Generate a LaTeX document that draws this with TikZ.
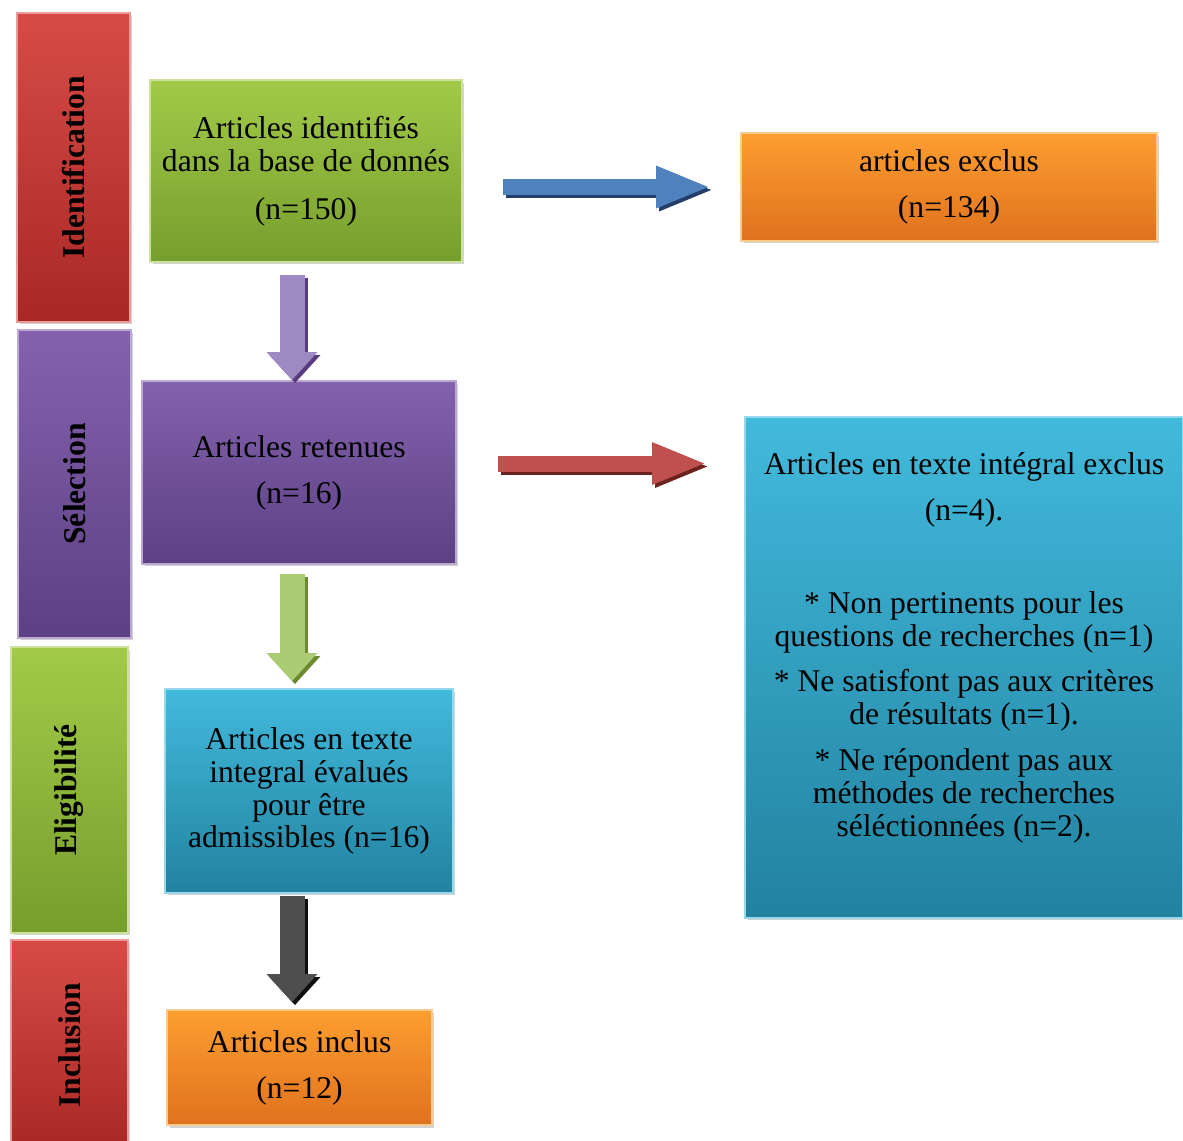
\documentclass[tikz,border=0pt]{standalone}
\usepackage{fontspec}
\setmainfont{Liberation Serif}
\usepackage{graphicx}
\usepackage{tikz}
\usetikzlibrary{arrows.meta, positioning, calc, shadows}
\definecolor{redtop}{RGB}{215,75,70}
\definecolor{redbot}{RGB}{168,40,38}
\definecolor{purtop}{RGB}{132,98,172}
\definecolor{purbot}{RGB}{92,64,132}
\definecolor{gretop}{RGB}{162,202,72}
\definecolor{grebot}{RGB}{118,158,45}
\definecolor{blutop}{RGB}{66,186,220}
\definecolor{blubot}{RGB}{34,130,160}
\definecolor{orgtop}{RGB}{252,158,48}
\definecolor{orgbot}{RGB}{224,114,30}
\definecolor{arrblue}{RGB}{79,129,189}
\definecolor{arrblueshd}{RGB}{36,62,106}
\definecolor{arrred}{RGB}{192,80,77}
\definecolor{arrredshd}{RGB}{108,34,30}
\definecolor{arrpur}{RGB}{158,138,194}
\definecolor{arrpurshd}{RGB}{88,60,128}
\definecolor{arrgre}{RGB}{172,204,116}
\definecolor{arrgreshd}{RGB}{108,138,50}
\definecolor{arrblk}{RGB}{78,78,78}
\definecolor{arrblkshd}{RGB}{15,15,15}
\newcommand\boxfont{\fontsize{18}{18.7}\selectfont}
\newcommand\barfont{\fontsize{18}{18.7}\selectfont\bfseries}
\tikzset{
  stagebox/.style 2 args={rectangle, top color=#1, bottom color=#2,
                          draw=#1!55!white, line width=1pt, inner sep=2pt,
                          align=center, font=\boxfont,
                          drop shadow={shadow xshift=0.05cm, shadow yshift=-0.05cm,
                                       opacity=0.35}},
  stagebar/.style 2 args={stagebox={#1}{#2}, font=\barfont},
  harrow/.style={draw=#1, line width=0.32cm,
                 -{Triangle[length=1.1cm, width=0.76cm]}},
  varrow/.style={draw=#1, line width=0.5cm,
                 -{Triangle[length=0.56cm, width=0.98cm]}},
  arrshd/.style={transform canvas={shift={(0.06cm,-0.06cm)}}},
}
\begin{document}
\begin{tikzpicture}[x=0.02cm, y=-0.02cm]
  \useasboundingbox (0,0) rectangle (1183,1140);

  % Stage bars
  \node[stagebar={redtop}{redbot}, minimum width=2.26cm, minimum height=6.18cm]
    (barid) at (73.5,167.5) {\rotatebox{90}{Identification}};
  \node[stagebar={purtop}{purbot}, minimum width=2.26cm, minimum height=6.16cm]
    (barsel) at (74.5,484) {\rotatebox{90}{Sélection}};
  \node[stagebar={gretop}{grebot}, minimum width=2.34cm, minimum height=5.72cm]
    (barelig) at (69.5,790) {\rotatebox{90}{Eligibilité}};
  \node[stagebar={redtop}{redbot}, minimum width=2.34cm, minimum height=4.2cm]
    (barincl) at (69.5,1045) {\rotatebox{90}{Inclusion}};

  % Main column
  \node[stagebox={gretop}{grebot}, minimum width=6.24cm, minimum height=3.64cm]
    (ident) at (306,171)
    {Articles identifiés\\dans la base de donnés\\[8.5pt](n=150)};
  \node[stagebox={purtop}{purbot}, minimum width=6.28cm, minimum height=3.66cm]
    (retenu) at (299,472.5) {Articles retenues\\[7.4pt](n=16)};
  \node[stagebox={blutop}{blubot}, minimum width=5.76cm, minimum height=4.08cm]
    (evalue) at (309,791)
    {Articles en texte\\integral évalués\\pour être\\admissibles (n=16)};
  \node[stagebox={orgtop}{orgbot}, minimum width=5.3cm, minimum height=2.3cm]
    (inclus) at (299.5,1067.5) {Articles inclus\\[7.4pt](n=12)};

  % Excluded
  \node[stagebox={orgtop}{orgbot}, minimum width=8.32cm, minimum height=2.16cm]
    (exclu) at (949,187) {articles exclus\\[7.4pt](n=134)};
  \node[stagebox={blutop}{blubot}, minimum width=8.76cm, minimum height=10.02cm]
    (exclutxt) at (964,667.5)
    {Articles en texte intégral exclus\\[7.4pt](n=4).\\[34pt]
     * Non pertinents pour les\\questions de recherches (n=1)\\[7.4pt]
     * Ne satisfont pas aux critères\\de résultats (n=1).\\[7.4pt]
     * Ne répondent pas aux\\méthodes de recherches\\séléctionnées (n=2).\\[0.26cm]\mbox{}};

  % Arrow ends
  \coordinate (h1s) at ($(ident.east |- exclu.west)+(40,0)$);
  \coordinate (h1e) at ($(exclu.west)+(-29,0)$);
  \coordinate (h2s) at ($(retenu.east)+(41,-9)$);
  \coordinate (h2e) at ($(retenu.east -| exclutxt.west)+(-37,-9)$);
  \coordinate (v1s) at ($(ident.south)+(-14,12)$);
  \coordinate (v1e) at (v1s |- retenu.north);
  \coordinate (v2s) at ($(v1s |- retenu.south)+(0,9)$);
  \coordinate (v2e) at ($(v1s |- evalue.north)+(0,-7)$);
  \coordinate (v3s) at ($(v1s |- evalue.south)+(0,2)$);
  \coordinate (v3e) at ($(v1s |- inclus.north)+(0,-7)$);

  % Arrows
  \draw[harrow=arrblueshd, arrshd] (h1s) -- (h1e);
  \draw[harrow=arrblue] (h1s) -- (h1e);
  \draw[harrow=arrredshd, arrshd] (h2s) -- (h2e);
  \draw[harrow=arrred] (h2s) -- (h2e);
  \draw[varrow=arrpurshd, arrshd] (v1s) -- (v1e);
  \draw[varrow=arrpur] (v1s) -- (v1e);
  \draw[varrow=arrgreshd, arrshd] (v2s) -- (v2e);
  \draw[varrow=arrgre] (v2s) -- (v2e);
  \draw[varrow=arrblkshd, arrshd] (v3s) -- (v3e);
  \draw[varrow=arrblk] (v3s) -- (v3e);

\end{tikzpicture}
\end{document}
